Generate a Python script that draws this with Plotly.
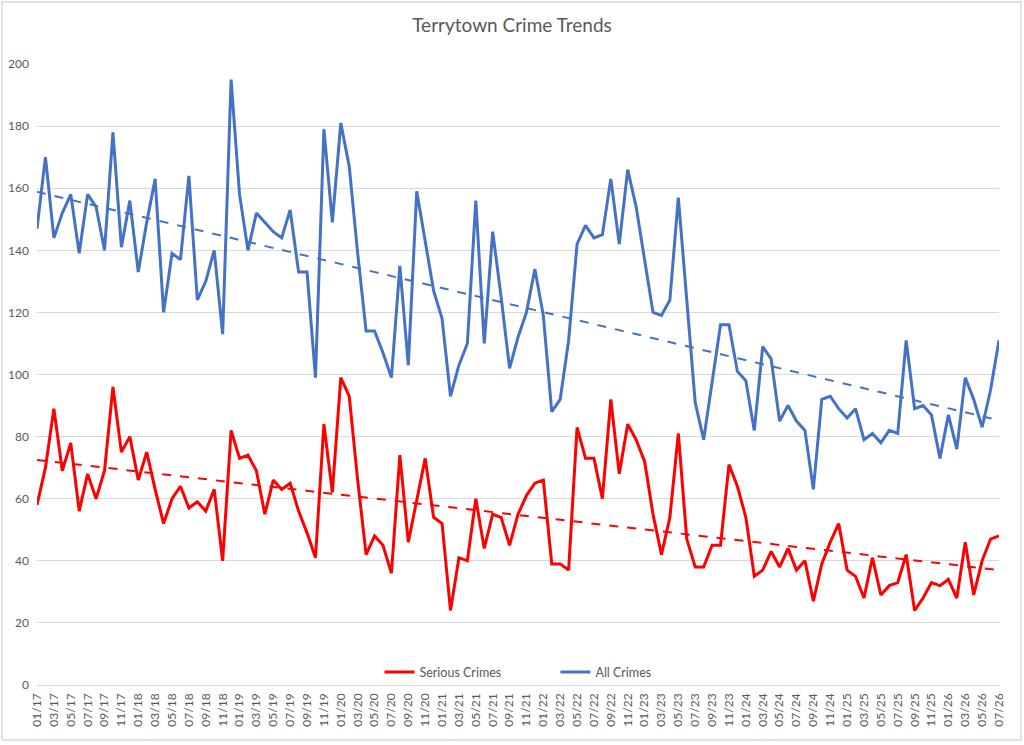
import numpy as np
import plotly.graph_objects as go

# monthly counts, 01/17 .. 07/26
all_crimes = [
    147, 170, 144, 152, 158, 139, 158, 154, 140, 178, 141, 156,
    133, 149, 163, 120, 139, 137, 164, 124, 130, 140, 113, 195,
    158, 140, 152, 149, 146, 144, 153, 133, 133, 99, 179, 149,
    181, 167, 139, 114, 114, 107, 99, 135, 103, 159, 143, 127,
    118, 93, 103, 110, 156, 110, 146, 125, 102, 112, 120, 134,
    119, 88, 92, 111, 142, 148, 144, 145, 163, 142, 166, 154,
    137, 120, 119, 124, 157, 124, 91, 79, 98, 116, 116, 101,
    98, 82, 109, 105, 85, 90, 85, 82, 63, 92, 93, 89,
    86, 89, 79, 81, 78, 82, 81, 111, 89, 90, 87, 73,
    87, 76, 99, 92, 83, 95, 111,
]
serious_crimes = [
    58, 70, 89, 69, 78, 56, 68, 60, 69, 96, 75, 80,
    66, 75, 63, 52, 60, 64, 57, 59, 56, 63, 40, 82,
    73, 74, 69, 55, 66, 63, 65, 56, 49, 41, 84, 62,
    99, 93, 66, 42, 48, 45, 36, 74, 46, 60, 73, 54,
    52, 24, 41, 40, 60, 44, 55, 54, 45, 55, 61, 65,
    66, 39, 39, 37, 83, 73, 73, 60, 92, 68, 84, 79,
    72, 55, 42, 54, 81, 47, 38, 38, 45, 45, 71, 64,
    54, 35, 37, 43, 38, 44, 37, 40, 27, 39, 46, 52,
    37, 35, 28, 41, 29, 32, 33, 42, 24, 28, 33, 32,
    34, 28, 46, 29, 40, 47, 48,
]
months = [f"{m:02d}/{y % 100:02d}" for y in range(2017, 2027) for m in range(1, 13)]
months = months[: len(all_crimes)]
y_ticks = list(range(0, 201, 20))

RED = "#FF0000"
BLUE = "#4472C4"
GREY = "#595959"
FONT = "Lato, Open Sans, sans-serif"

x = np.arange(len(months))


def trend(values):
    slope, icpt = np.polyfit(x, values, 1)
    return slope * x + icpt


fig = go.Figure()
fig.add_trace(
    go.Scatter(
        x=x, y=serious_crimes, mode="lines", name="Serious Crimes",
        line=dict(color=RED, width=3),
    )
)
fig.add_trace(
    go.Scatter(
        x=x, y=all_crimes, mode="lines", name="All Crimes",
        line=dict(color=BLUE, width=3),
    )
)
fig.add_trace(
    go.Scatter(
        x=x, y=trend(serious_crimes), mode="lines", showlegend=False,
        line=dict(color=RED, width=2, dash="dash"), hoverinfo="skip",
    )
)
fig.add_trace(
    go.Scatter(
        x=x, y=trend(all_crimes), mode="lines", showlegend=False,
        line=dict(color=BLUE, width=2, dash="dash"), hoverinfo="skip",
    )
)

# outer chart border
fig.add_shape(
    type="rect", xref="paper", yref="paper",
    x0=-0.0364, x1=1.0229, y0=-0.0886, y1=1.0998,
    line=dict(color="#D9D9D9", width=1.5), layer="above",
)

fig.update_layout(
    width=1024,
    height=745,
    margin=dict(l=37, r=25, t=64, b=60, autoexpand=False),
    paper_bgcolor="white",
    plot_bgcolor="white",
    font=dict(family=FONT, color=GREY, size=12),
    title=dict(
        text="Terrytown Crime Trends", x=0.5, xanchor="center",
        y=0.966, yanchor="middle",
        font=dict(family=FONT, size=19, color=GREY),
    ),
    legend=dict(
        orientation="h", x=0.356, xanchor="left", y=-0.004, yanchor="bottom",
        font=dict(size=12.5, color=GREY), bgcolor="rgba(0,0,0,0)",
        entrywidth=131,
    ),
    xaxis=dict(
        range=[0, len(months) - 1],
        tickvals=list(x[::2]),
        ticktext=months[::2],
        tickangle=-90,
        showgrid=False,
        zeroline=False,
        showline=False,
        ticks="",
        ticklabelstandoff=5,
        tickfont=dict(size=12, color=GREY),
    ),
    yaxis=dict(
        range=[0, 200],
        tickvals=y_ticks,
        gridcolor="#D9D9D9",
        gridwidth=1,
        zeroline=True,
        zerolinecolor="#D9D9D9",
        zerolinewidth=1,
        showline=False,
        ticks="",
        ticklabelstandoff=7,
        tickfont=dict(size=12, color=GREY),
    ),
    showlegend=True,
)

fig.write_html(
    "out.html",
    config={"displayModeBar": False},
    post_script="document.body.style.margin = '0px';",
)
